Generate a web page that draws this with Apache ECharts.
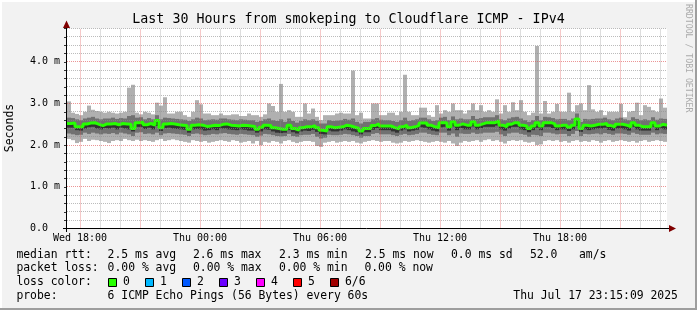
<!DOCTYPE html>
<html><head><meta charset="utf-8">
<script src="https://cdn.jsdelivr.net/npm/echarts@6/dist/echarts.min.js"></script>
<style>html,body{margin:0;padding:0;background:#f2f2f2}#c{width:697px;height:310px}</style>
</head><body><div id="c"></div>
<script>
// ---------- data ----------
const startHour = 17.35;          // hours since Wed 00:00 at the left edge (Wed 17:21)
const stepHours = 0.2;            // one consolidated step = 12 minutes
const xLabelHours = [18, 24, 30, 36, 42];
const xLabelText = ['Wed 18:00', 'Thu 00:00', 'Thu 06:00', 'Thu 12:00', 'Thu 18:00'];
const yLabelValues = [0, 1, 2, 3, 4];
const yLabelText = ['0.0', '1.0 m', '2.0 m', '3.0 m', '4.0 m'];

const medianRtt = [
 2.52,2.53,2.44,2.44,2.51,2.53,2.54,2.50,2.47,2.51, 2.51,2.52,2.49,2.52,2.51,2.50,2.40,2.54,2.55,2.49,
 2.52,2.48,2.59,2.42,2.51,2.52,2.51,2.49,2.48,2.47, 2.38,2.48,2.49,2.48,2.45,2.46,2.48,2.47,2.50,2.51,
 2.48,2.47,2.46,2.48,2.47,2.46,2.45,2.38,2.43,2.48, 2.47,2.42,2.40,2.38,2.38,2.48,2.40,2.36,2.42,2.44,
 2.44,2.47,2.42,2.36,2.34,2.44,2.42,2.43,2.44,2.48, 2.46,2.43,2.40,2.34,2.40,2.40,2.47,2.51,2.46,2.46,
 2.46,2.42,2.39,2.44,2.48,2.42,2.44,2.47,2.53,2.53, 2.48,2.44,2.42,2.54,2.54,2.44,2.56,2.48,2.51,2.48,
 2.48,2.56,2.48,2.51,2.54,2.54,2.54,2.58,2.48,2.44, 2.50,2.54,2.54,2.48,2.46,2.40,2.46,2.54,2.46,2.54,
 2.54,2.51,2.46,2.48,2.48,2.43,2.48,2.63,2.40,2.48, 2.46,2.48,2.50,2.50,2.52,2.47,2.44,2.50,2.50,2.48,
 2.44,2.54,2.48,2.44,2.44,2.44,2.54,2.46,2.50,2.48];
const pingMax = [
 3.05,2.78,2.75,2.72,2.80,2.95,2.85,2.82,2.80,2.78, 2.80,2.78,2.76,2.78,2.80,3.38,3.45,2.78,2.74,2.80,
 2.78,2.74,3.02,2.95,3.15,2.76,2.76,2.80,2.80,2.72, 2.68,2.80,3.08,2.98,2.76,2.76,2.72,2.72,2.76,2.72,
 2.72,2.74,2.74,2.70,2.70,2.76,2.72,2.72,2.68,2.74, 3.00,2.94,2.80,3.47,2.80,2.84,2.80,2.68,2.68,3.00,
 2.76,2.88,2.68,2.60,2.72,2.72,2.72,2.76,2.78,2.76, 2.76,3.79,2.72,2.78,2.64,2.64,3.00,3.00,2.72,2.72,
 2.78,2.78,2.72,2.80,3.69,2.80,2.72,2.72,2.90,2.90, 2.72,2.68,2.96,2.76,2.84,2.80,3.00,2.84,2.84,2.76,
 2.84,3.00,2.84,2.96,2.80,2.84,2.80,3.10,2.76,2.96, 2.80,3.03,2.84,3.08,2.80,2.72,2.78,4.38,2.76,3.06,
 2.76,2.80,2.99,2.80,2.80,3.26,2.80,2.96,3.00,2.84, 3.44,2.86,2.80,2.84,2.72,2.80,2.80,2.80,2.99,2.67,
 2.80,2.82,3.02,2.72,2.96,2.92,2.84,2.80,3.12,2.90];
const pingHigh = [
 2.66,2.65,2.62,2.60,2.64,2.66,2.68,2.64,2.62,2.64, 2.64,2.66,2.63,2.65,2.64,2.70,2.72,2.66,2.67,2.62,
 2.65,2.62,2.72,2.62,2.66,2.65,2.64,2.63,2.62,2.61, 2.58,2.62,2.66,2.64,2.60,2.61,2.62,2.61,2.64,2.64,
 2.62,2.61,2.60,2.62,2.61,2.60,2.60,2.56,2.58,2.62, 2.64,2.60,2.58,2.62,2.56,2.64,2.58,2.54,2.58,2.62,
 2.60,2.62,2.58,2.52,2.52,2.60,2.58,2.59,2.60,2.63, 2.61,2.64,2.56,2.52,2.56,2.56,2.62,2.65,2.61,2.60,
 2.60,2.58,2.56,2.60,2.66,2.58,2.60,2.62,2.66,2.66, 2.62,2.58,2.60,2.66,2.68,2.60,2.69,2.62,2.64,2.62,
 2.62,2.70,2.63,2.65,2.67,2.67,2.67,2.72,2.62,2.60, 2.64,2.67,2.68,2.64,2.60,2.56,2.60,2.70,2.60,2.68,
 2.67,2.65,2.62,2.63,2.63,2.60,2.64,2.76,2.56,2.63, 2.62,2.63,2.64,2.64,2.66,2.62,2.60,2.64,2.66,2.62,
 2.60,2.67,2.63,2.60,2.62,2.60,2.67,2.61,2.64,2.63];
const pingDark = [
 2.42,2.42,2.36,2.35,2.40,2.43,2.44,2.40,2.38,2.41, 2.40,2.42,2.38,2.42,2.40,2.38,2.33,2.44,2.44,2.39,
 2.42,2.38,2.46,2.34,2.41,2.42,2.40,2.39,2.38,2.37, 2.30,2.38,2.39,2.38,2.35,2.36,2.38,2.36,2.40,2.40,
 2.38,2.37,2.36,2.38,2.37,2.35,2.35,2.30,2.33,2.38, 2.37,2.33,2.30,2.29,2.30,2.36,2.31,2.28,2.33,2.35,
 2.34,2.37,2.32,2.27,2.26,2.35,2.33,2.33,2.35,2.38, 2.36,2.33,2.31,2.26,2.31,2.31,2.37,2.41,2.36,2.36,
 2.36,2.33,2.30,2.35,2.38,2.33,2.35,2.37,2.43,2.42, 2.38,2.35,2.33,2.43,2.44,2.35,2.45,2.36,2.41,2.38,
 2.38,2.45,2.38,2.41,2.44,2.44,2.44,2.47,2.38,2.35, 2.40,2.44,2.44,2.38,2.36,2.31,2.36,2.42,2.36,2.44,
 2.44,2.41,2.36,2.38,2.38,2.34,2.38,2.46,2.32,2.38, 2.36,2.38,2.40,2.40,2.42,2.37,2.35,2.40,2.40,2.38,
 2.35,2.44,2.38,2.35,2.35,2.35,2.44,2.36,2.40,2.38];
const pingLow = [
 2.28,2.26,2.24,2.25,2.30,2.27,2.30,2.28,2.26,2.28, 2.27,2.29,2.26,2.30,2.28,2.26,2.22,2.30,2.31,2.27,
 2.28,2.26,2.30,2.24,2.28,2.29,2.28,2.27,2.26,2.25, 2.22,2.27,2.28,2.26,2.24,2.25,2.27,2.26,2.28,2.29,
 2.27,2.26,2.25,2.27,2.26,2.25,2.24,2.20,2.23,2.27, 2.26,2.24,2.22,2.21,2.22,2.27,2.22,2.20,2.24,2.25,
 2.25,2.27,2.20,2.16,2.18,2.25,2.24,2.24,2.25,2.27, 2.26,2.24,2.22,2.18,2.22,2.22,2.27,2.29,2.26,2.26,
 2.26,2.24,2.22,2.25,2.27,2.24,2.25,2.27,2.30,2.30, 2.27,2.25,2.24,2.30,2.30,2.24,2.28,2.20,2.28,2.27,
 2.27,2.30,2.27,2.28,2.30,2.30,2.30,2.32,2.26,2.22, 2.28,2.30,2.30,2.27,2.25,2.20,2.25,2.24,2.22,2.30,
 2.30,2.28,2.26,2.27,2.27,2.22,2.27,2.34,2.22,2.27, 2.26,2.27,2.28,2.26,2.29,2.27,2.25,2.28,2.28,2.27,
 2.25,2.30,2.27,2.25,2.25,2.25,2.30,2.26,2.28,2.27];
const pingMin = [
 2.15,2.12,2.05,2.08,2.15,2.10,2.13,2.12,2.10,2.08, 2.05,2.10,2.12,2.10,2.15,2.12,2.10,2.13,2.10,2.12,
 2.10,2.08,2.12,2.15,2.10,2.12,2.14,2.12,2.10,2.08, 2.06,2.12,2.10,2.08,2.10,2.06,2.08,2.10,2.12,2.10,
 2.08,2.12,2.10,2.06,2.08,2.10,2.04,2.10,2.00,2.08, 2.06,2.10,2.08,2.04,2.10,2.12,2.08,2.05,2.08,2.10,
 2.10,2.08,1.98,1.96,2.06,2.08,2.10,2.06,2.08,2.10, 2.08,2.10,2.06,2.04,2.08,2.10,2.12,2.10,2.08,2.10,
 2.10,2.06,2.04,2.06,2.10,2.08,2.10,2.12,2.10,2.08, 2.06,2.08,2.10,2.08,2.06,2.10,2.04,1.98,2.06,2.10,
 2.08,2.10,2.12,2.08,2.12,2.14,2.10,2.12,2.08,2.04, 2.10,2.12,2.10,2.12,2.08,2.06,2.08,2.00,2.02,2.10,
 2.12,2.10,2.12,2.08,2.10,2.06,2.10,2.12,2.08,2.10, 2.08,2.12,2.10,2.06,2.10,2.12,2.08,2.10,2.12,2.10,
 2.08,2.10,2.06,2.10,2.12,2.08,2.10,2.12,2.10,2.08];

const titleText = 'Last 30 Hours from smokeping to Cloudflare ICMP - IPv4';
const yAxisName = 'Seconds';
const rttLegend = ['median rtt:', '2.5 ms avg', '2.6 ms max', '2.3 ms min', '2.5 ms now', '0.0 ms sd', '52.0', 'am/s'];
const lossLegend = ['packet loss:', '0.00 % avg', '0.00 % max', '0.00 % min', '0.00 % now'];
const lossColorLabel = 'loss color:';
const lossColorNames = ['0', '1', '2', '3', '4', '5', '6/6'];
const lossColors = ['#26ff00', '#00b8ff', '#0059ff', '#6a00ff', '#ff00ff', '#ff0000', '#a10000'];
const probeLegend = ['probe:', '6 ICMP Echo Pings (56 Bytes) every 60s', 'Thu Jul 17 23:15:09 2025'];
const sideText = 'RRDTOOL / TOBI OETIKER';

// ---------- chart ----------
const MONO = 'DejaVu Sans Mono';
const yMax = 4.8;
const times = medianRtt.map((_, i) => startHour + i * stepHours);
const endHour = startHour + medianRtt.length * stepHours;

function band(lo, hi, color) {
  return {
    type: 'custom', silent: true, animation: false, z: 2,
    data: times.map((t, i) => [t, lo[i], hi[i]]),
    encode: { x: 0, y: [1, 2] },
    renderItem(params, api) {
      const t = api.value(0);
      const p = api.coord([t, api.value(2)]);
      const q = api.coord([t + stepHours, api.value(1)]);
      const x0 = Math.round(p[0]), x1 = Math.round(q[0]);
      return { type: 'rect', shape: { x: x0, y: p[1], width: x1 - x0, height: q[1] - p[1] }, style: { fill: color } };
    }
  };
}
function vGrid(hours, color) {
  return {
    type: 'custom', silent: true, animation: false, z: 6,
    data: hours.map(h => [h, 0]), encode: { x: 0, y: 1 },
    renderItem(params, api) {
      const a = api.coord([api.value(0), 0]);
      const b = api.coord([api.value(0), yMax]);
      const x = Math.floor(a[0]) + 0.5;
      return { type: 'line', shape: { x1: x, y1: a[1], x2: x, y2: b[1] }, style: { stroke: color, lineWidth: 1, lineDash: [1, 1] } };
    }
  };
}
function hGrid(vals, color) {
  return {
    type: 'custom', silent: true, animation: false, z: 6,
    data: vals.map(v => [startHour, v]), encode: { x: 0, y: 1 },
    renderItem(params, api) {
      const a = api.coord([startHour, api.value(1)]);
      const b = api.coord([endHour, api.value(1)]);
      const y = Math.floor(a[1]) + 0.5;
      return { type: 'line', shape: { x1: a[0], y1: y, x2: b[0], y2: y }, style: { stroke: color, lineWidth: 1, lineDash: [1, 1] } };
    }
  };
}
const hourMinor = [], hourMajor = [];
for (let h = Math.ceil(startHour); h < endHour; h++) (h % 3 === 0 ? hourMajor : hourMinor).push(h);
const yMinor = [], yMajor = [];
for (let i = 1; i <= Math.round(yMax / 0.2); i++) (i % 5 === 0 ? yMajor : yMinor).push(+(i * 0.2).toFixed(1));

// tick labels drawn through the axes' scales
const xLabelSeries = {
  type: 'custom', silent: true, animation: false, clip: false, z: 10,
  data: xLabelHours.map((h, i) => [h, 0, i]), encode: { x: 0, y: 1 },
  renderItem(params, api) {
    const p = api.coord([api.value(0), 0]);
    return { type: 'text', x: p[0], y: p[1] + 9.5, style: { text: xLabelText[api.value(2)], font: '10px ' + MONO, fill: '#000', align: 'center', verticalAlign: 'middle' } };
  }
};
const yLabelSeries = {
  type: 'custom', silent: true, animation: false, clip: false, z: 10,
  data: yLabelValues.map((v, i) => [startHour, v, i]), encode: { x: 0, y: 1 },
  renderItem(params, api) {
    const p = api.coord([startHour, api.value(1)]);
    return { type: 'text', x: 30, y: p[1], style: { text: yLabelText[api.value(2)], font: '10px ' + MONO, fill: '#000', align: 'left', verticalAlign: 'middle' } };
  }
};

const graphic = [];
// frame
graphic.push({ type: 'rect', shape: { x: 0, y: 0, width: 697, height: 2 }, style: { fill: '#ffffff' }, silent: true });
graphic.push({ type: 'rect', shape: { x: 0, y: 0, width: 2, height: 310 }, style: { fill: '#ffffff' }, silent: true });
graphic.push({ type: 'rect', shape: { x: 0, y: 308, width: 697, height: 2 }, style: { fill: '#9e9e9e' }, silent: true });
graphic.push({ type: 'rect', shape: { x: 695, y: 0, width: 2, height: 310 }, style: { fill: '#9e9e9e' }, silent: true });
// axis lines + arrows
graphic.push({ type: 'line', shape: { x1: 63, y1: 228.5, x2: 670, y2: 228.5 }, style: { stroke: '#000', lineWidth: 1 }, z: 50 });
graphic.push({ type: 'line', shape: { x1: 66.5, y1: 232, x2: 66.5, y2: 26 }, style: { stroke: '#000', lineWidth: 1 }, z: 50 });
graphic.push({ type: 'polygon', shape: { points: [[669, 225], [676, 228.5], [669, 232]] }, style: { fill: '#800000' }, z: 51 });
graphic.push({ type: 'polygon', shape: { points: [[63, 28], [66.5, 20.5], [70, 28]] }, style: { fill: '#800000' }, z: 51 });
// title
graphic.push({ type: 'text', x: 348.5, y: 19.5, style: { text: titleText, font: '13.3px ' + MONO, fill: '#000', align: 'center', verticalAlign: 'middle' } });
// side text
graphic.push({ type: 'text', x: 688, y: 4, rotation: -Math.PI / 2, style: { text: sideText, font: '8.2px ' + MONO, fill: '#ababab', align: 'left', verticalAlign: 'middle' } });
// y axis title
graphic.push({ type: 'text', x: 10.5, y: 128, rotation: Math.PI / 2, style: { text: yAxisName, font: '11.5px ' + MONO, fill: '#000', align: 'center', verticalAlign: 'middle' } });
// legend rows
const LF = '11.4px ' + MONO;
const rowY = [255, 268.5, 282.5, 296];
const rttX = [16.4, 107.6, 192.9, 279, 365, 451, 530, 579];
rttLegend.forEach((s, i) => graphic.push({ type: 'text', x: rttX[i], y: rowY[0], style: { text: s, font: LF, fill: '#000', verticalAlign: 'middle' } }));
const lossX = [16.4, 107.6, 193, 279, 364.4];
lossLegend.forEach((s, i) => graphic.push({ type: 'text', x: lossX[i], y: rowY[1], style: { text: s, font: LF, fill: '#000', verticalAlign: 'middle' } }));
graphic.push({ type: 'text', x: 16.4, y: rowY[2], style: { text: lossColorLabel, font: LF, fill: '#000', verticalAlign: 'middle' } });
lossColorNames.forEach((s, i) => {
  const bx = 108.5 + i * 37;
  graphic.push({ type: 'rect', shape: { x: bx, y: 278.5, width: 8, height: 8 }, style: { fill: lossColors[i], stroke: '#000', lineWidth: 1 } });
  graphic.push({ type: 'text', x: bx + 14.5, y: rowY[2], style: { text: s, font: LF, fill: '#000', verticalAlign: 'middle' } });
});
const probeX = [16.4, 107.6, 513.3];
probeLegend.forEach((s, i) => graphic.push({ type: 'text', x: probeX[i], y: rowY[3], style: { text: s, font: LF, fill: '#000', verticalAlign: 'middle' } }));

const option = {
  animation: false,
  backgroundColor: '#f2f2f2',
  grid: { left: 67, top: 28.5, width: 600, height: 200, show: true, backgroundColor: '#ffffff', borderWidth: 0 },
  xAxis: {
    type: 'value', min: startHour, max: endHour,
    axisLine: { show: false }, axisTick: { show: false }, splitLine: { show: false },
    axisLabel: { show: false }
  },
  yAxis: {
    type: 'value', min: 0, max: yMax, interval: 0.2,
    axisLine: { show: false },
    axisTick: { show: true, length: 3, lineStyle: { color: '#333' } },
    splitLine: { show: false },
    axisLabel: { show: false }
  },
  graphic: graphic,
  series: [
    band(pingMin, pingMax, '#b0b0b0'),
    band(pingLow, pingHigh, '#717171'),
    band(pingDark, medianRtt, '#323232'),
    {
      type: 'line', step: 'end', symbol: 'none', silent: true, animation: false, z: 4,
      data: times.map((t, i) => [t, medianRtt[i]]).concat([[endHour, medianRtt[medianRtt.length - 1]]]),
      lineStyle: { color: '#26ff00', width: 3 }
    },
    vGrid(hourMinor, 'rgba(143,143,143,0.6)'),
    hGrid(yMinor, 'rgba(143,143,143,0.6)'),
    vGrid(hourMajor, 'rgba(222,79,79,0.6)'),
    hGrid(yMajor, 'rgba(222,79,79,0.6)'),
    xLabelSeries,
    yLabelSeries
  ]
};
const chart = echarts.init(document.getElementById('c'), null, { renderer: 'canvas', width: 697, height: 310 });
chart.setOption(option);
</script></body></html>
